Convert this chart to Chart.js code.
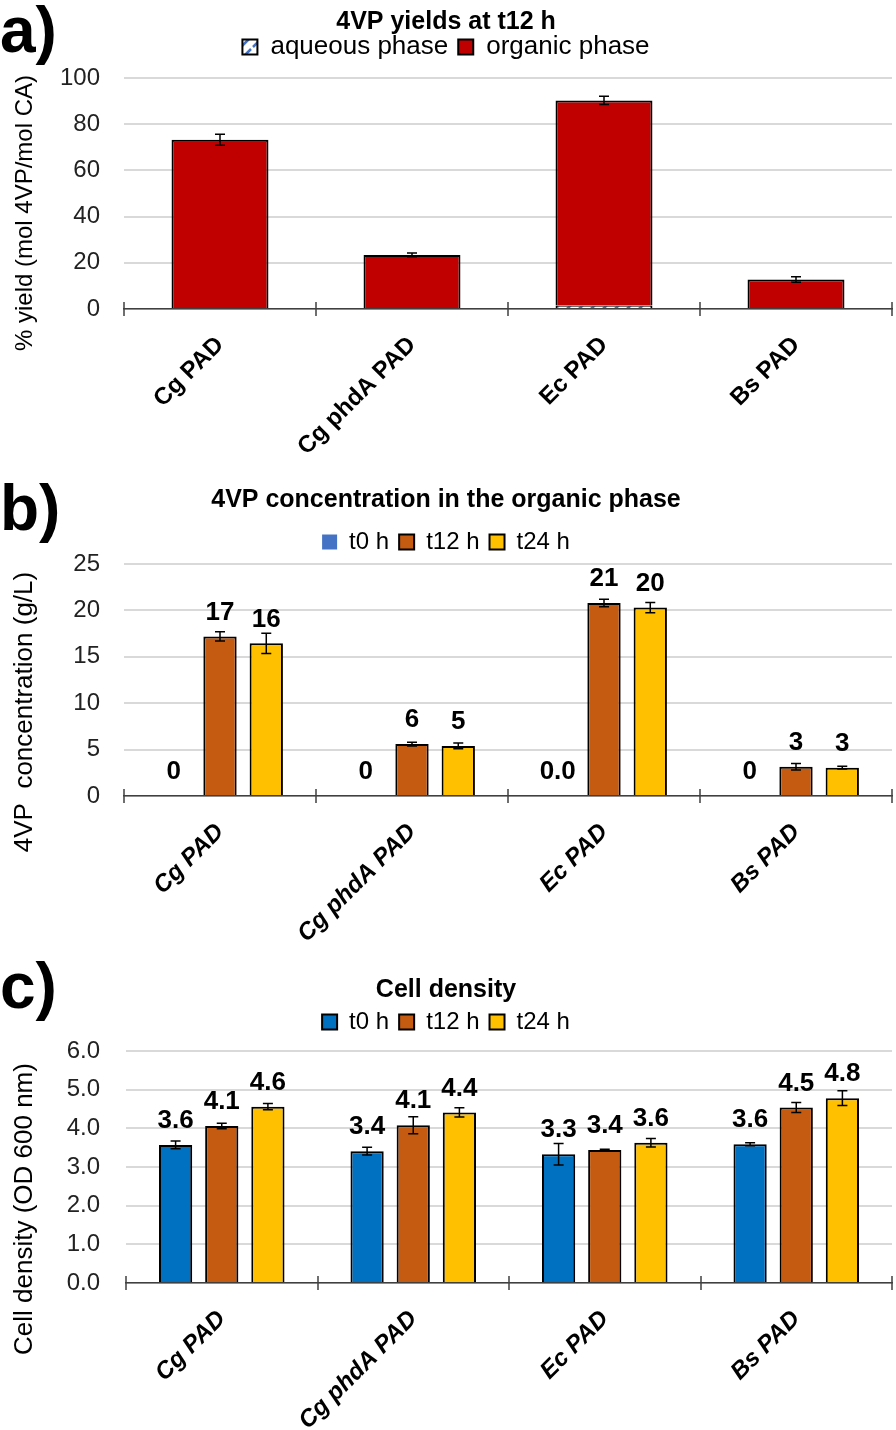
<!DOCTYPE html>
<html>
<head>
<meta charset="utf-8">
<script src="https://cdn.jsdelivr.net/npm/chart.js@4.4.0/dist/chart.umd.min.js"></script>
<style>
  html, body { margin: 0; padding: 0; background: #fff; }
  body { width: 896px; height: 1430px; position: relative; overflow: hidden; font-family: "Liberation Sans", Arial, sans-serif; }
  .panel { position: absolute; left: 0; width: 896px; }
  .tag { position: absolute; left: 0; font-weight: bold; font-size: 64px; line-height: 1; color: #000; z-index: 2; }
</style>
</head>
<body>
<div class="panel" style="top:0"><canvas id="chartA" width="896" height="470"></canvas></div>
<div class="panel" style="top:470px"><canvas id="chartB" width="896" height="480"></canvas></div>
<div class="panel" style="top:950px"><canvas id="chartC" width="896" height="480"></canvas></div>
<div class="tag" style="top:-2px">a)</div>
<div class="tag" style="top:476px">b)</div>
<div class="tag" style="top:954px">c)</div>
<script>
const categories = ["Cg PAD", "Cg phdA PAD", "Ec PAD", "Bs PAD"]

// a) 4VP yields at t12 h (% mol 4VP / mol CA)
const yieldAqueous = [0, 0, 1.5, 0]
const yieldOrganic = [73.3, 23.4, 88.8, 12.8]
const yieldErr = [2.4, 0.8, 1.8, 1.2]
const yieldTicks = [0, 20, 40, 60, 80, 100]

// b) 4VP concentration in the organic phase (g/L)
const concT0 = [0, 0, 0, 0]
const concT12 = [17.2, 5.6, 20.8, 3.15]
const concT24 = [16.45, 5.4, 20.3, 3.05]
const concErrT12 = [0.5, 0.2, 0.4, 0.35]
const concErrT24 = [1.1, 0.3, 0.55, 0.15]
const concLabT0 = ["0", "0", "0.0", "0"]
const concLabT12 = ["17", "6", "21", "3"]
const concLabT24 = ["16", "5", "20", "3"]
const concTicks = [0, 5, 10, 15, 20, 25]

// c) cell density (OD 600 nm)
const odT0 = [3.57, 3.41, 3.33, 3.59]
const odT12 = [4.06, 4.08, 3.44, 4.54]
const odT24 = [4.56, 4.41, 3.63, 4.78]
const odErrT0 = [0.1, 0.1, 0.28, 0.04]
const odErrT12 = [0.07, 0.22, 0.02, 0.13]
const odErrT24 = [0.08, 0.12, 0.11, 0.19]
const odTicks = [0, 1, 2, 3, 4, 5, 6]

const FONT = "'Liberation Sans', Arial, sans-serif"
const RED = "#C00000", ORANGE = "#C55A11", YELLOW = "#FFC000"
const BLUE = "#0070C0", LIGHTBLUE = "#4472C4"
const GRID = "#D9D9D9", AXIS = "#404040"

Chart.defaults.font.family = FONT
Chart.defaults.color = "#000"

// white with a blue diagonal stripe, for the aqueous phase
function hatch() {
    const c = document.createElement("canvas")
    c.width = 12; c.height = 12
    const g = c.getContext("2d")
    g.fillStyle = "#fff"
    g.fillRect(0, 0, 12, 12)
    g.strokeStyle = LIGHTBLUE
    g.lineWidth = 2.5
    g.beginPath()
    g.moveTo(1, 11); g.lineTo(11, 1)
    g.stroke()
    return g.createPattern(c, "repeat")
}

const errorBars = {
    id: "errorBars",
    afterDatasetsDraw(chart) {
        const ctx = chart.ctx, y = chart.scales.y
        ctx.save()
        ctx.strokeStyle = "#000"
        ctx.lineWidth = 1.5
        chart.data.datasets.forEach((ds, i) => {
            if (!ds.errors) return
            chart.getDatasetMeta(i).data.forEach((bar, j) => {
                const e = ds.errors[j]
                if (!e) return
                const d = y.getPixelForValue(0) - y.getPixelForValue(e)
                ctx.beginPath()
                ctx.moveTo(bar.x, bar.y - d); ctx.lineTo(bar.x, bar.y + d)
                ctx.moveTo(bar.x - 5, bar.y - d); ctx.lineTo(bar.x + 5, bar.y - d)
                ctx.moveTo(bar.x - 5, bar.y + d); ctx.lineTo(bar.x + 5, bar.y + d)
                ctx.stroke()
            })
        })
        ctx.restore()
    }
}

const valueLabels = {
    id: "valueLabels",
    afterDatasetsDraw(chart) {
        const ctx = chart.ctx
        ctx.save()
        ctx.font = "bold 26px " + FONT
        ctx.fillStyle = "#000"
        ctx.textAlign = "center"
        ctx.textBaseline = "middle"
        chart.data.datasets.forEach((ds, i) => {
            if (!ds.valueLabels) return
            chart.getDatasetMeta(i).data.forEach((bar, j) => {
                ctx.fillText(ds.valueLabels[j], bar.x, bar.y - 24)
            })
        })
        ctx.restore()
    }
}

// tick marks crossing the category axis at the category borders
const crossTicks = {
    id: "crossTicks",
    afterDraw(chart) {
        const ctx = chart.ctx, x = chart.scales.x
        const y0 = chart.scales.y.getPixelForValue(0)
        ctx.save()
        ctx.strokeStyle = AXIS
        ctx.lineWidth = 1.5
        ctx.beginPath()
        for (let i = 0; i <= chart.data.labels.length; i++) {
            const px = Math.round(x.getPixelForValue(i - 0.5))
            ctx.moveTo(px, y0 - 7)
            ctx.lineTo(px, y0 + 7)
        }
        ctx.stroke()
        ctx.restore()
    }
}

// value axis title, which sits lower than the middle of the plot
const sideTitle = {
    id: "sideTitle",
    afterDraw(chart, args, opts) {
        const ctx = chart.ctx
        ctx.save()
        ctx.translate(opts.x, opts.y)
        ctx.rotate(-Math.PI / 2)
        ctx.font = opts.size + "px " + FONT
        ctx.fillStyle = "#000"
        ctx.textAlign = "center"
        ctx.textBaseline = "middle"
        ctx.fillText(opts.text, 0, 0)
        ctx.restore()
    }
}

// extra room between the legend and the plot
function legendGap(extra) {
    return {
        id: "legendGap",
        beforeLayout(chart) {
            const lg = chart.legend
            if (!lg || lg._gapDone) return
            const fit = lg.fit
            lg.fit = function () { fit.call(this); this.height += extra }
            lg._gapDone = true
        }
    }
}

function makeOptions(p) {
    return {
        responsive: false,
        animation: false,
        layout: { padding: { left: 0, right: 4, top: 0, bottom: 0 } },
        plugins: {
            title: {
                display: true,
                text: p.title,
                font: { size: 25, weight: "bold" },
                color: "#000",
                padding: { top: p.titleTop, bottom: p.titleBottom }
            },
            legend: {
                display: true,
                position: "top",
                labels: {
                    font: { size: p.legendSize },
                    color: "#000",
                    boxWidth: 15,
                    boxHeight: 15,
                    padding: 10
                }
            },
            tooltip: { enabled: false },
            sideTitle: { text: p.yTitle, size: p.yTitleSize, x: 25, y: p.yTitleY }
        },
        scales: {
            x: {
                stacked: p.stacked,
                grid: { display: false },
                border: { display: true, color: AXIS, width: 1.5 },
                ticks: {
                    autoSkip: false,
                    minRotation: 45,
                    maxRotation: 45,
                    padding: 14,
                    color: "#000",
                    font: { size: 24, weight: "bold", style: p.italic ? "italic" : "normal" }
                },
                afterFit: s => { s.height = p.xHeight }
            },
            y: {
                stacked: p.stacked,
                min: 0,
                max: p.ticks[p.ticks.length - 1],
                grid: { color: GRID, lineWidth: 2, drawTicks: false },
                border: { display: false },
                ticks: {
                    padding: p.tickPad,
                    color: "#222",
                    font: { size: 24 },
                    callback: v => v.toFixed(p.decimals)
                },
                afterBuildTicks: s => { s.ticks = p.ticks.map(v => ({ value: v })) },
                afterFit: s => { s.width = p.yWidth }
            }
        }
    }
}

new Chart(document.getElementById("chartA"), {
    type: "bar",
    data: {
        labels: categories,
        datasets: [
            {
                label: "aqueous phase",
                data: yieldAqueous,
                backgroundColor: hatch(),
                borderColor: "#000",
                borderWidth: 2,
                barPercentage: 0.505,
                categoryPercentage: 1
            },
            {
                label: "organic phase",
                data: yieldOrganic,
                errors: yieldErr,
                backgroundColor: RED,
                borderColor: "#000",
                borderWidth: 2,
                barPercentage: 0.505,
                categoryPercentage: 1
            }
        ]
    },
    options: makeOptions({
        title: "4VP yields at t12 h", titleTop: 7, titleBottom: -13, legendSize: 26,
        yTitle: "% yield (mol 4VP/mol CA)", yTitleSize: 24, yTitleY: 213,
        ticks: yieldTicks, decimals: 0,
        stacked: true, italic: false, yWidth: 124, xHeight: 161, tickPad: 24
    }),
    plugins: [errorBars, crossTicks, sideTitle, legendGap(8)]
})

function groupSet(label, data, errors, color, labels, border) {
    return {
        label: label,
        data: data,
        errors: errors,
        valueLabels: labels,
        backgroundColor: color,
        borderColor: "#000",
        borderWidth: border,
        barPercentage: 0.72,
        categoryPercentage: 0.723
    }
}

new Chart(document.getElementById("chartB"), {
    type: "bar",
    data: {
        labels: categories,
        datasets: [
            groupSet("t0 h", concT0, null, LIGHTBLUE, concLabT0, 0),
            groupSet("t12 h", concT12, concErrT12, ORANGE, concLabT12, 2),
            groupSet("t24 h", concT24, concErrT24, YELLOW, concLabT24, 2)
        ]
    },
    options: makeOptions({
        title: "4VP concentration in the organic phase", titleTop: 15, titleBottom: 5, legendSize: 24,
        yTitle: "4VP  concentration (g/L)", yTitleSize: 26, yTitleY: 242,
        ticks: concTicks, decimals: 0,
        stacked: false, italic: true, yWidth: 124, xHeight: 154, tickPad: 24
    }),
    plugins: [errorBars, valueLabels, crossTicks, sideTitle, legendGap(0)]
})

new Chart(document.getElementById("chartC"), {
    type: "bar",
    data: {
        labels: categories,
        datasets: [
            groupSet("t0 h", odT0, odErrT0, BLUE, odT0.map(v => v.toFixed(1)), 2),
            groupSet("t12 h", odT12, odErrT12, ORANGE, odT12.map(v => v.toFixed(1)), 2),
            groupSet("t24 h", odT24, odErrT24, YELLOW, odT24.map(v => v.toFixed(1)), 2)
        ]
    },
    options: makeOptions({
        title: "Cell density", titleTop: 25, titleBottom: -5, legendSize: 24,
        yTitle: "Cell density (OD 600 nm)", yTitleSize: 26, yTitleY: 259,
        ticks: odTicks, decimals: 1,
        stacked: false, italic: true, yWidth: 126, xHeight: 147, tickPad: 26
    }),
    plugins: [errorBars, valueLabels, crossTicks, sideTitle, legendGap(7)]
})
</script>
</body>
</html>
